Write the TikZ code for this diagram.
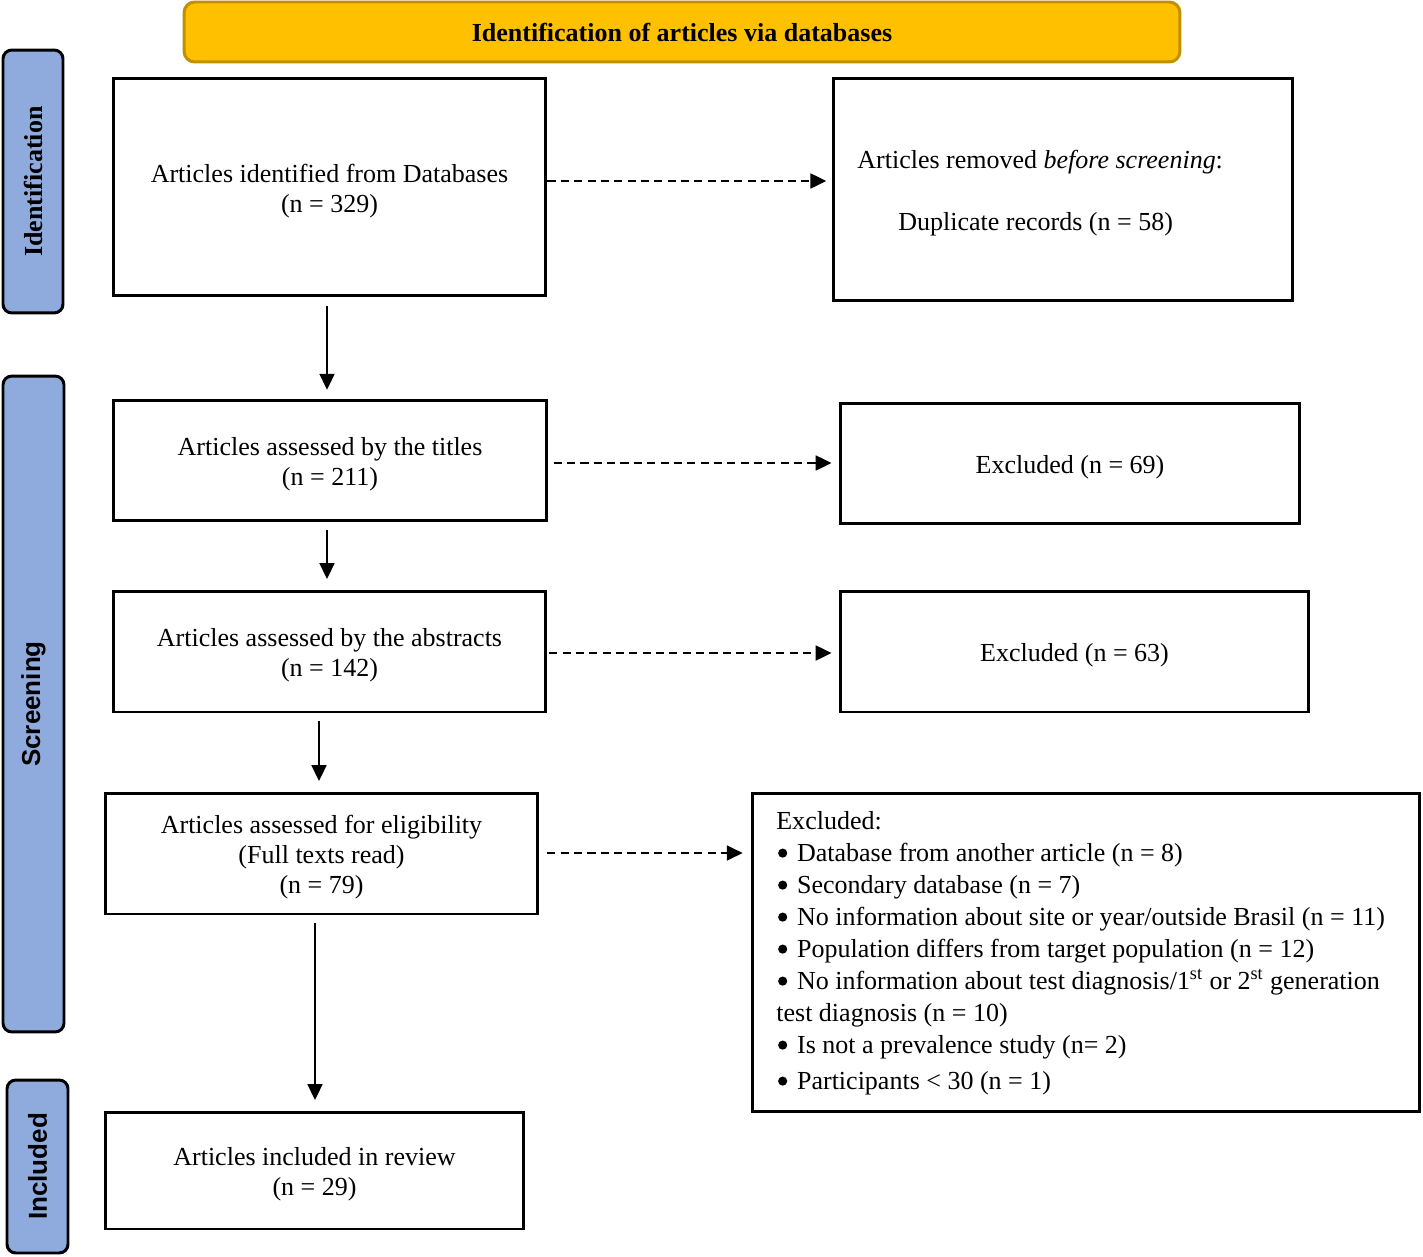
\documentclass[tikz,border=0pt]{standalone}
\usepackage{fontspec}
\setmainfont{Liberation Serif}
\setsansfont{Liberation Sans}
\usetikzlibrary{arrows.meta}
\definecolor{bannerfill}{HTML}{FFC000}
\definecolor{bannerline}{HTML}{BF9000}
\definecolor{sidefill}{HTML}{8FAADC}
\newcommand{\lowr}[1]{\raisebox{-2.3pt}[\height][\depth]{\begin{tabular}{@{}c@{}}#1\end{tabular}}}
\newcommand{\bul}{\hspace{1pt}\tikz[baseline=0pt]{\fill[black] (2.6pt,4.5pt) circle (2.6pt);}\hspace{5.6pt}}
\begin{document}
\begin{tikzpicture}[x=0.02cm,y=-0.02cm,
  every node/.style={font=\fontsize{14.8}{17.07}\selectfont},
  box/.style={draw=black,line width=1.7pt,fill=white,inner sep=0pt},
  side/.style={draw=black,line width=1.7pt,fill=sidefill,rounded corners=5pt,inner sep=0pt},
  banner/.style={draw=bannerline,line width=1.7pt,fill=bannerfill,rounded corners=6pt,inner sep=0pt},
  arr/.style={line width=1.1pt,-{Triangle[length=9pt,width=8.5pt]}},
  darr/.style={arr,dash pattern=on 4.6pt off 3pt},
  txt/.style={inner sep=0pt}
]
\useasboundingbox (0,0) rectangle (1423,1257);

% banner
\node[banner,minimum width=19.92cm,minimum height=1.2cm] (ban) at (682,32) {\textbf{Identification of articles via databases}};

% side labels
\node[side,minimum width=1.2cm,minimum height=5.26cm] (sid) at (33,181.5) {};
\node[txt,rotate=90] (sidt) at (sid.center) {\textbf{Identification}};
\node[side,minimum width=1.22cm,minimum height=13.12cm] (ssc) at (33.5,704) {};
\node[txt,rotate=90] (ssct) at (ssc.center) {\sffamily\bfseries Screening};
\node[side,minimum width=1.22cm,minimum height=3.46cm] (sin) at (37.5,1166.5) {};
\node[txt,rotate=90] (sint) at (sin.center) {\sffamily\bfseries Included};

% main boxes
\node[box,minimum width=8.66cm,minimum height=4.34cm] (A) at (329.5,187) {\lowr{Articles identified from Databases\\(n = 329)}};
\node[box,minimum width=9.2cm,minimum height=4.46cm] (B) at (1063,189.5) {};
\node[txt,anchor=base west] (B1) at (857,169) {Articles removed \textit{before screening}:};
\node[txt,anchor=base west] (B2) at (898,230) {Duplicate records (n = 58)};

\node[box,minimum width=8.68cm,minimum height=2.42cm] (C) at (330,460.5) {\lowr{Articles assessed by the titles\\(n = 211)}};
\node[box,minimum width=9.2cm,minimum height=2.42cm] (D) at (1070,463.5) {\lowr{Excluded (n = 69)}};

\node[box,minimum width=8.66cm,minimum height=2.42cm] (E) at (329.5,651.5) {\lowr{Articles assessed by the abstracts\\(n = 142)}};
\node[box,minimum width=9.38cm,minimum height=2.42cm] (F) at (1074.5,651.5) {\lowr{Excluded (n = 63)}};

\node[box,minimum width=8.66cm,minimum height=2.42cm] (G) at (321.5,853.5) {\lowr{Articles assessed for eligibility\\(Full texts read)\\(n = 79)}};
\node[box,minimum width=13.36cm,minimum height=6.38cm] (H) at (1086,952.5) {};

\node[box,minimum width=8.38cm,minimum height=2.34cm] (I) at (314.5,1170.5) {\lowr{Articles included in review\\(n = 29)}};

% excluded list
\node[txt,anchor=base west] (h1) at (776,829) {Excluded:};
\node[txt,anchor=base west] (h2) at (776,861) {\bul Database from another article (n = 8)};
\node[txt,anchor=base west] (h3) at (776,893) {\bul Secondary database (n = 7)};
\node[txt,anchor=base west] (h4) at (776,925) {\bul No information about site or year/outside Brasil (n = 11)};
\node[txt,anchor=base west] (h5) at (776,957) {\bul Population differs from target population (n = 12)};
\node[txt,anchor=base west] (h6) at (776,989) {\bul No information about test diagnosis/1\textsuperscript{st} or 2\textsuperscript{st} generation};
\node[txt,anchor=base west] (h7) at (776,1021) {test diagnosis (n = 10)};
\node[txt,anchor=base west] (h8) at (776,1053) {\bul Is not a prevalence study (n= 2)};
\node[txt,anchor=base west] (h9) at (776,1089) {\bul Participants < 30 (n = 1)};

% vertical arrows
\draw[arr,shorten <=5pt,shorten >=5pt] (A.south -| 327,0) -- (C.north -| 327,0);
\draw[arr,shorten <=4pt,shorten >=6pt] (C.south -| 327,0) -- (E.north -| 327,0);
\draw[arr,shorten <=4pt,shorten >=6pt] (E.south -| 319,0) -- (G.north -| 319,0);
\draw[arr,shorten <=4pt,shorten >=6pt] (G.south -| 315,0) -- (I.north -| 315,0);

% dashed arrows
\draw[darr,shorten >=3pt] (A.east |- 0,181) -- (B.west |- 0,181);
\draw[darr,shorten <=3pt,shorten >=4pt] (C.east |- 0,463) -- (D.west |- 0,463);
\draw[darr,shorten <=1pt,shorten >=4pt] (E.east |- 0,653) -- (F.west |- 0,653);
\draw[darr,shorten <=4.5pt,shorten >=4.5pt] (G.east |- 0,853) -- (H.west |- 0,853);
\end{tikzpicture}
\end{document}
